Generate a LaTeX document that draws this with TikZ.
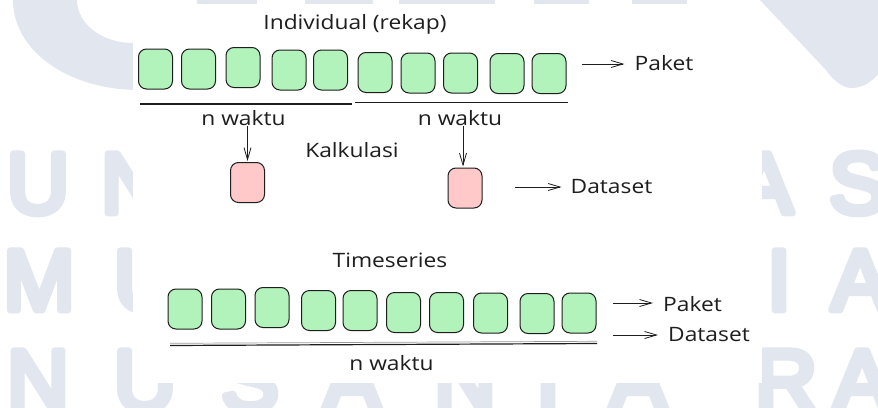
\documentclass[tikz,border=0pt]{standalone}
\usepackage{fontspec}
\usetikzlibrary{arrows.meta}
\newfontfamily\handfont[FakeStretch=1.15]{Open Sans}
\newfontfamily\markfont[FakeBold=8]{Liberation Sans}
\definecolor{ink}{HTML}{1E1E1E}
\definecolor{pktgreen}{HTML}{B2F2BB}
\definecolor{dspink}{HTML}{FFC9C9}
\definecolor{wmark}{RGB}{226,230,239}
\begin{document}
\begin{tikzpicture}[x=1pt,y=-1pt,
  pkt/.style={draw=ink, fill=pktgreen, rounded corners=8pt, minimum width=34pt,
    minimum height=40pt, inner sep=0pt, line width=1pt},
  dset/.style={pkt, fill=dspink},
  lbl/.style={font=\handfont\fontsize{19.8}{22}\selectfont, text=ink, inner sep=1pt, anchor=base},
  arr/.style={draw=ink, line width=0.8pt, -{Straight Barb[length=12pt,width=7pt]}},
  rule/.style={draw=ink, line width=1.2pt},
  wm/.style={font=\markfont\fontsize{86}{86}\selectfont, text=wmark, inner sep=0pt,
    anchor=base, line join=round},
]
\clip (0,0) rectangle (878,407);
\fill[white] (0,0) rectangle (878,407);

% background lettering
\begin{scope}[line join=round]
\foreach \ch/\x/\y [count=\i] in {U/38/213, N/132/213, A/764/213, S/858/213,
    M/39/310, U/145/310, I/779/310, A/860/310,
    N/38/410, U/145/410, S/250/410, A/352/410, N/465/410, T/548/410, A/638/410, R/786/410, A/862/410}
  \node[wm] (wm\i) at (\x,\y) {\ch};
\end{scope}
\fill[wmark] (13,0) .. controls (13,50) and (67,90) .. (140,90) -- (140,43)
  -- (133,43) .. controls (102,43) and (77,24) .. (77,0) -- cycle;
\fill[wmark] (760,0) -- (826,70) .. controls (836,84) and (845,88) .. (852,88)
  .. controls (862,88) and (872,82) .. (880,72) -- (880,0) -- cycle;
\foreach \xa/\xb in {197/257, 305/373, 399/495, 534/589, 632/687}
  \fill[wmark] (\xa,-2) rectangle (\xb,8);

% white panel
\fill[white] (133,3.5) rectangle (762,383);

% upper row of packets
\foreach \x/\y [count=\i] in {155.5/69, 198.5/69, 243/67.5, 289/70, 330.5/70,
    375/72.5, 418/73, 460.5/73, 507/73.5, 549/73.5}
  \node[pkt] (a\i) at (\x,\y) {};

% lower row of packets
\foreach \x/\y [count=\i] in {185/309, 228.5/309, 272/307.5, 318.5/310.5, 360/310.5,
    403.5/312.5, 446.5/312.5, 490.5/313, 537/313.5, 579/313}
  \node[pkt] (b\i) at (\x,\y) {};

% computed datasets
\node[dset] (d1) at (247.5,182.5) {};
\node[dset] (d2) at (465,188) {};

% labels
\node[lbl] (ttlA) at (355,29) {Individual (rekap)};
\node[lbl] (pktA) at (664,70) {Paket};
\node[lbl] (wA) at (243.5,125) {n waktu};
\node[lbl] (wB) at (460,125) {n waktu};
\node[lbl] (calc) at (352,157) {Kalkulasi};
\node[lbl] (dsA) at (611.5,193) {Dataset};
\node[lbl] (ttlB) at (390,267) {Timeseries};
\node[lbl] (pktB) at (692.5,311) {Paket};
\node[lbl] (dsB) at (709,341) {Dataset};
\node[lbl] (wC) at (391.5,370) {n waktu};

% time spans
\draw[rule] (140,104) -- (352,104);
\draw[rule] (355,102.5) -- (568,102.5);
\draw[rule] (170,345.5) -- (597,343.5);
\draw[draw=ink!45, line width=0.7pt] (170,343.3) -- (597,341.3);

% arrows
\coordinate (pA) at (582,64);
\coordinate (dA) at (515,187);
\coordinate (pB) at (613,303);
\coordinate (dB) at (613,335);
\draw[arr, shorten >=9pt] (pA) -- (pA -| pktA.west);
\draw[arr, shorten >=8pt] (dA) -- (dA -| dsA.west);
\draw[arr, shorten >=9pt] (pB) -- (pB -| pktB.west);
\draw[arr, shorten >=9pt] (dB) -- (dB -| dsB.west);
\draw[arr, shorten >=1pt] (d1.north |- wA.south) -- (d1.north);
\draw[arr, shorten >=1pt] ([xshift=-2pt]d2.north |- wB.south) -- ([xshift=-2pt]d2.north);
\end{tikzpicture}
\end{document}
